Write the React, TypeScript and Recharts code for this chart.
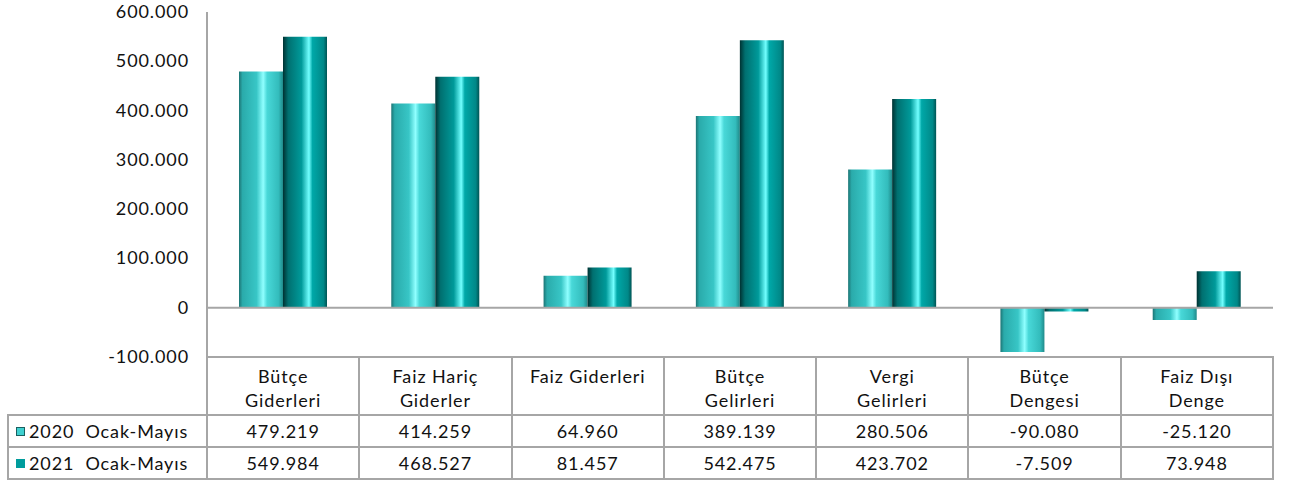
import { BarChart, Bar, XAxis, YAxis, ReferenceLine } from 'recharts'

const categories = [
  ['Bütçe', 'Giderleri'],
  ['Faiz Hariç', 'Giderler'],
  ['Faiz Giderleri'],
  ['Bütçe', 'Gelirleri'],
  ['Vergi', 'Gelirleri'],
  ['Bütçe', 'Dengesi'],
  ['Faiz Dışı', 'Denge'],
]
const series2020 = [479219, 414259, 64960, 389139, 280506, -90080, -25120]
const series2021 = [549984, 468527, 81457, 542475, 423702, -7509, 73948]
const yTicks = [-100000, 0, 100000, 200000, 300000, 400000, 500000, 600000]
const seriesNames = ['2020  Ocak-Mayıs', '2021  Ocak-Mayıs']

const W = 1296
const H = 482
const PLOT_LEFT = 207
const PLOT_RIGHT = 1273
const PLOT_TOP = 12
const PLOT_BOTTOM = 357
const ROW1 = 415
const ROW2 = 447
const ROW3 = 479
const LEGEND_LEFT = 8
const LINE = '#a6a6a6'
const FONT = 'Lato, "Open Sans", sans-serif'
const FS = 18
const LS = 0.9

const fmt = (v: number) => {
  const s = Math.abs(v).toString().replace(/\B(?=(\d{3})+(?!\d))/g, '.')
  return v < 0 ? '-' + s : s
}

const data = categories.map((c, i) => ({
  name: c.join(' '),
  y2020: series2020[i],
  y2021: series2021[i],
}))

function CategoryTick({ x, y, payload, index }: any) {
  const lines = categories[index] || [payload.value]
  return (
    <g>
      {lines.map((l: string, k: number) => (
        <text key={k} x={x} y={y + 26 + k * 24} textAnchor="middle" fontSize={FS} letterSpacing={LS} fill="#111" fontFamily={FONT}>
          {l}
        </text>
      ))}
    </g>
  )
}

function ValueTick({ x, y, payload }: any) {
  return (
    <text x={x} y={y} dy={6} textAnchor="end" fontSize={FS} letterSpacing={LS} fill="#111" fontFamily={FONT}>
      {fmt(payload.value)}
    </text>
  )
}

export default function App() {
  const colW = (PLOT_RIGHT - PLOT_LEFT) / categories.length
  const hLine = (x1: number, x2: number, y: number, key: string) => (
    <div key={key} style={{ position: 'absolute', left: x1 - 1, top: y - 1, width: x2 - x1 + 2, height: 2, background: LINE }} />
  )
  const vLine = (x: number, y1: number, y2: number, key: string) => (
    <div key={key} style={{ position: 'absolute', left: x - 1, top: y1 - 1, width: 2, height: y2 - y1 + 2, background: LINE }} />
  )
  const rows = [series2020, series2021]
  return (
    <div style={{ position: 'absolute', left: 0, top: 0, width: W, height: H, background: '#fff', fontFamily: FONT }}>
      <BarChart
        width={W}
        height={H}
        data={data}
        margin={{ top: PLOT_TOP, right: W - PLOT_RIGHT, left: 0, bottom: H - PLOT_BOTTOM - 58 }}
        barGap={0}
        barSize={44}
      >
        <defs>
          <linearGradient id="g2020" x1="0" y1="0" x2="1" y2="0">
            <stop offset="0%" stopColor="#1c7474" />
            <stop offset="8%" stopColor="#2aabab" />
            <stop offset="40%" stopColor="#38c6c6" />
            <stop offset="55%" stopColor="#90ffff" />
            <stop offset="64%" stopColor="#48d8d8" />
            <stop offset="90%" stopColor="#33bcbc" />
            <stop offset="100%" stopColor="#208a8a" />
          </linearGradient>
          <linearGradient id="g2021" x1="0" y1="0" x2="1" y2="0">
            <stop offset="0%" stopColor="#003232" />
            <stop offset="12%" stopColor="#007070" />
            <stop offset="42%" stopColor="#009a9a" />
            <stop offset="59%" stopColor="#72ffff" />
            <stop offset="67%" stopColor="#00a8a8" />
            <stop offset="92%" stopColor="#008888" />
            <stop offset="100%" stopColor="#005454" />
          </linearGradient>
        </defs>
        <XAxis
          dataKey="name"
          height={58}
          interval={0}
          tickLine={false}
          tickSize={0}
          tickMargin={0}
          axisLine={{ stroke: LINE, strokeWidth: 2 }}
          tick={<CategoryTick />}
        />
        <YAxis
          width={PLOT_LEFT}
          domain={[-100000, 600000]}
          ticks={yTicks}
          interval={0}
          tickLine={false}
          tickSize={0}
          tickMargin={18}
          axisLine={{ stroke: LINE, strokeWidth: 2 }}
          tick={<ValueTick />}
        />
        <ReferenceLine y={0} stroke={LINE} strokeWidth={2} />
        <Bar dataKey="y2020" fill="url(#g2020)" isAnimationActive={false} />
        <Bar dataKey="y2021" fill="url(#g2021)" isAnimationActive={false} />
      </BarChart>

      {/* data table grid */}
      {Array.from({ length: categories.length + 1 }, (_, i) => vLine(PLOT_LEFT + i * colW, PLOT_BOTTOM, ROW3, 'v' + i))}
      {vLine(LEGEND_LEFT, ROW1, ROW3, 'vl')}
      {hLine(LEGEND_LEFT, PLOT_RIGHT, ROW1, 'h1')}
      {hLine(LEGEND_LEFT, PLOT_RIGHT, ROW2, 'h2')}
      {hLine(LEGEND_LEFT, PLOT_RIGHT, ROW3, 'h3')}

      {rows.map((row, r) => {
        const top = r === 0 ? ROW1 : ROW2
        return (
          <div key={'r' + r}>
            <div style={{ position: 'absolute', left: 16, top: top + 12, width: 9, height: 9, boxSizing: 'border-box', background: r === 0 ? '#3fd0d0' : '#009c9c', border: r === 0 ? '1px solid #1a6060' : 'none' }} />
            <div style={{ position: 'absolute', left: 29, top: top, height: 32, lineHeight: '32px', fontSize: FS, letterSpacing: LS, color: '#111', whiteSpace: 'pre' }}>
              {seriesNames[r]}
            </div>
            {row.map((v, i) => (
              <div key={i} style={{ position: 'absolute', left: PLOT_LEFT + i * colW, top: top, width: colW, height: 32, lineHeight: '32px', textAlign: 'center', fontSize: FS, letterSpacing: LS, color: '#111' }}>
                {fmt(v)}
              </div>
            ))}
          </div>
        )
      })}
    </div>
  )
}
